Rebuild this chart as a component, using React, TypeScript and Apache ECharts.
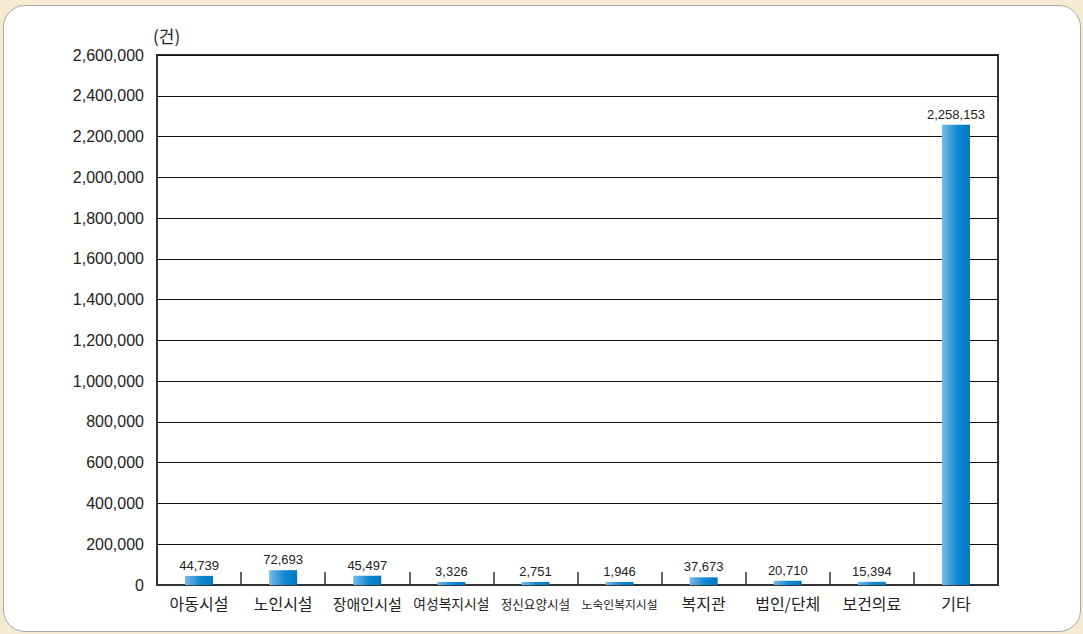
import React, { useEffect, useRef } from "react";
import * as echarts from "echarts";

const categories = ["아동시설", "노인시설", "장애인시설", "여성복지시설", "정신요양시설", "노숙인복지시설", "복지관", "법인/단체", "보건의료", "기타"];
const values = [44739, 72693, 45497, 3326, 2751, 1946, 37673, 20710, 15394, 2258153];
const unitLabel = "(건)";

export default function App() {
  const ref = useRef<HTMLDivElement>(null);
  useEffect(() => {
    if (!ref.current) return;
    const chart = echarts.init(ref.current, null, { renderer: "svg" });
    const numFont = "'Liberation Sans', Arial, sans-serif";
    const krFont = "'Noto Sans CJK KR', 'Liberation Sans', sans-serif";
    const labelStyle = (size: number) => ({ fontSize: size, color: "#222", fontFamily: krFont, height: 18, lineHeight: 18 });
    // label font key by label length (long labels are condensed in the original)
    const keyFor = (v: string) => {
      const n = v.length;
      if (n <= 5 && v !== "장애인시설") return "a";
      if (v === "장애인시설") return "b";
      if (v === "여성복지시설") return "c";
      if (n === 6) return "d";
      return "e";
    };
    chart.setOption({
      animation: false,
      backgroundColor: "transparent",
      grid: {
        left: 157,
        right: 85,
        top: 55,
        bottom: 49,
        show: true,
        borderColor: "#333",
        borderWidth: 2,
        backgroundColor: "transparent",
      },
      graphic: [
        {
          type: "text",
          left: 153,
          top: 27,
          style: { text: unitLabel, fontSize: 17, fill: "#222", fontFamily: krFont },
        },
      ],
      xAxis: {
        type: "category",
        data: categories,
        axisLine: { show: true, lineStyle: { color: "#333", width: 2 } },
        axisTick: { show: true, inside: true, length: 13, lineStyle: { color: "#333", width: 1.5 } },
        axisLabel: {
          color: "#222",
          margin: 9,
          interval: 0,
          formatter: (v: string) => `{${keyFor(v)}|${v}}`,
          rich: {
            a: labelStyle(16),
            b: labelStyle(15),
            c: labelStyle(13.8),
            d: labelStyle(12.6),
            e: labelStyle(11.8),
          },
        },
      },
      yAxis: {
        type: "value",
        min: 0,
        max: 2600000,
        interval: 200000,
        axisLine: { show: true, lineStyle: { color: "#333", width: 2 } },
        axisTick: { show: false },
        splitLine: { show: true, lineStyle: { color: "#111", width: 1 } },
        axisLabel: {
          color: "#222",
          fontSize: 16,
          margin: 13,
          fontFamily: numFont,
          formatter: (v: number) => v.toLocaleString("en-US"),
        },
      },
      series: [
        {
          type: "bar",
          data: values,
          barWidth: 28,
          barMinHeight: 3,
          itemStyle: {
            color: new echarts.graphic.LinearGradient(0, 0, 1, 0, [
              { offset: 0, color: "#7ab9e6" },
              { offset: 0.55, color: "#1089d2" },
              { offset: 1, color: "#0077c2" },
            ]),
          },
          label: {
            show: true,
            position: "top",
            distance: 4,
            color: "#222",
            fontSize: 13,
            fontFamily: numFont,
            formatter: (p: any) => Number(p.value).toLocaleString("en-US"),
          },
        },
      ],
    });
    return () => chart.dispose();
  }, []);

  return (
    <div style={{ position: "absolute", left: 0, top: 0, width: 1083, height: 634, background: "#f5ebd3", overflow: "hidden" }}>
      <div
        style={{
          position: "absolute",
          left: 3,
          top: 5,
          width: 1083 - 3 - 2,
          height: 634 - 5 - 2,
          background: "#fff",
          borderRadius: 22,
          border: "1.5px solid #a9a9a9",
          boxSizing: "border-box",
        }}
      />
      <div ref={ref} style={{ position: "absolute", left: 0, top: 0, width: 1083, height: 634 }} />
    </div>
  );
}
